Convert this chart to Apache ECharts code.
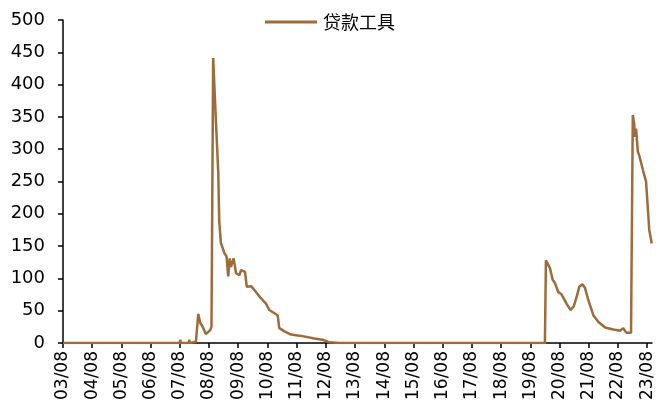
<!DOCTYPE html>
<html><head><meta charset="utf-8">
<script src="https://cdn.jsdelivr.net/npm/echarts@6/dist/echarts.min.js"></script>
<style>html,body{margin:0;padding:0;background:#fff}#c{width:656px;height:412px}</style>
</head><body><div id="c"></div>
<script>
const seriesName = '贷款工具';
const dates = [
 '2003-08-01','2005-07-20','2005-07-28','2005-08-05','2006-03-25','2006-04-01','2006-04-08',
 '2006-08-12','2006-08-19','2006-08-26','2007-01-12','2007-01-19','2007-01-26',
 '2007-07-30','2007-08-07','2007-08-15','2007-11-20','2007-11-28','2007-12-06',
 '2008-02-19','2008-03-19','2008-04-13','2008-05-10','2008-06-22','2008-08-16','2008-09-01',
 '2008-09-22','2008-10-07','2008-10-28','2008-11-25','2008-12-07','2008-12-28',
 '2009-02-10','2009-03-07','2009-03-28','2009-04-16','2009-05-01','2009-06-04','2009-07-04',
 '2009-08-16','2009-09-07','2009-10-25','2009-11-16','2010-01-10','2010-03-10','2010-05-13',
 '2010-07-13','2010-08-25','2010-10-28','2010-12-07','2010-12-28','2011-03-01','2011-05-22',
 '2011-09-28','2012-03-10','2012-06-22','2012-09-16','2013-01-19','2020-02-01',
 '2020-02-13','2020-03-01','2020-04-03','2020-05-07','2020-06-04','2020-07-16','2020-08-28',
 '2020-10-28','2020-12-19','2021-01-28','2021-03-04','2021-04-04','2021-05-13','2021-06-16',
 '2021-07-25','2021-09-28','2021-11-28','2022-02-22','2022-06-04','2022-08-28','2022-10-07',
 '2022-11-13','2023-01-13','2023-01-22','2023-02-04','2023-02-19','2023-03-01','2023-03-15',
 '2023-04-06','2023-04-22','2023-06-15','2023-07-18','2023-07-27','2023-08-16','2023-08-28',
 '2023-09-28'
];
const values = [
 0,0,3,0,0,3,0,
 0,2,0,0,2,0,
 0,5,0,0,5,0,
 2,45,31,26,14,20,25,
 441,438,340,263,188,155,
 139,134,103,131,118,131,108,
 105,113,110,87,88,79,69,
 61,51,46,43,23,18,13,
 11,7,5,1,0,0,
 128,127,116,98,93,79,75,
 61,51,57,72,87,91,85,
 67,43,33,24,21,19,23,
 16,16,15,353,340,319,332,
 296,291,265,250,247,198,175,
 154
];
const xTickLabels = ['03/08','04/08','05/08','06/08','07/08','08/08','09/08','10/08','11/08','12/08',
 '13/08','14/08','15/08','16/08','17/08','18/08','19/08','20/08','21/08','22/08','23/08'];
const yMin = 0, yMax = 500, yStep = 50;
const startYear = 2003, startMonth = 8;

function monthIndex(s){
  const p = s.split('-').map(Number);
  const dim = new Date(p[0], p[1], 0).getDate();
  return (p[0]-startYear)*12 + (p[1]-startMonth) + (p[2]-1)/dim;
}
const tickValues = xTickLabels.map((_, i) => i*12);
const seriesData = dates.map((d, i) => [monthIndex(d), values[i]]);

const lineColor = '#9E6B3A';
const xLabelStyle = {
  customValues: tickValues, rotate: 90, margin: 8,
  fontFamily: 'DejaVu Sans', fontSize: 17, color: '#000',
  formatter: v => xTickLabels[Math.round(v/12)] || ''
};
const chart = echarts.init(document.getElementById('c'), null, {renderer:'canvas'});
chart.setOption({
  animation: false,
  backgroundColor: '#fff',
  legend: {
    top: 8, left: 260,
    itemWidth: 52, itemHeight: 3, itemGap: 10,
    textStyle: {fontFamily: 'Noto Sans CJK SC', fontSize: 18, color: '#000', padding: [0,0,0,1]},
    data: [{name: seriesName, icon: 'rect', itemStyle: {color: lineColor}}]
  },
  grid: {left: 63, right: 4, top: 20, bottom: 69, containLabel: false},
  xAxis: {
    type: 'value', min: 0, max: 242, interval: 12,
    splitLine: {show: false},
    axisLine: {show: true, onZero: false, lineStyle: {color: '#000', width: 1.5}},
    axisTick: {show: true, length: 5, customValues: tickValues, lineStyle: {color: '#000', width: 1.5}},
    axisLabel: xLabelStyle
  },
  yAxis: {
    type: 'value', min: yMin, max: yMax, interval: yStep,
    splitLine: {show: false},
    axisLine: {show: true, lineStyle: {color: '#000', width: 1.5}},
    axisTick: {show: true, length: 5, lineStyle: {color: '#000', width: 1.5}},
    axisLabel: {fontFamily: 'DejaVu Sans', fontSize: 18, color: '#000', margin: 18}
  },
  series: [{
    name: seriesName, type: 'line', data: seriesData,
    showSymbol: false, symbol: 'none', sampling: null,
    lineStyle: {color: lineColor, width: 2.5},
    itemStyle: {color: lineColor}
  }]
});
// second pass: re-apply the axis label settings so the rotated layout is kept
chart.setOption({title: {show: false, text: ''}, xAxis: {axisLabel: xLabelStyle}});
</script>
</body></html>
